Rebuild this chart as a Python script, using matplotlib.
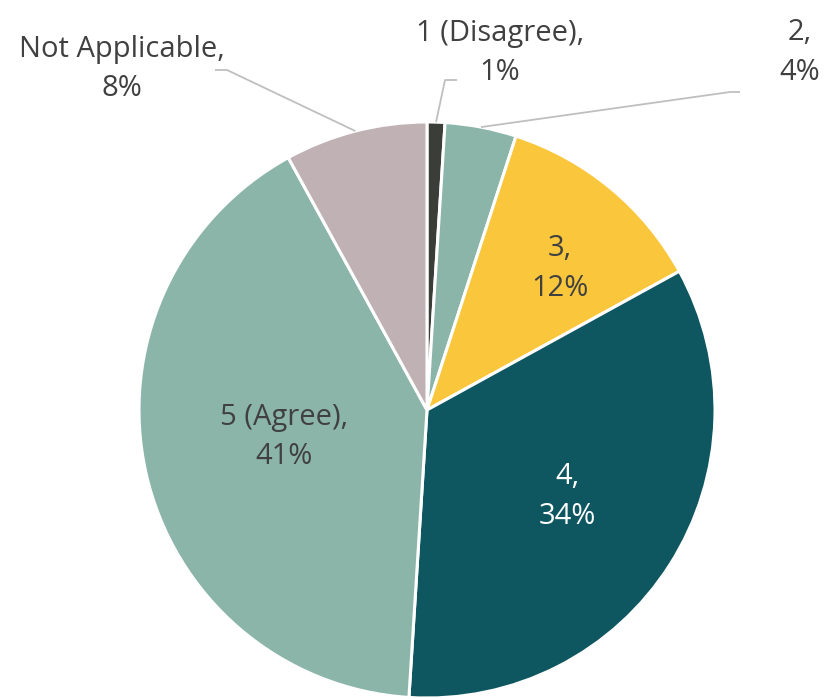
import numpy as np
import matplotlib
matplotlib.use("Agg")
import matplotlib.pyplot as plt

plt.rcParams["font.family"] = ["Open Sans", "DejaVu Sans"]

categories = ["1 (Disagree)", "2", "3", "4", "5 (Agree)", "Not Applicable"]
shares = [1, 4, 12, 34, 41, 8]
colors = ["#3b3d38", "#8cb5aa", "#f9c63c", "#0e5660", "#8cb5aa", "#c0b1b4"]

TXT = "#404040"
W, H = 830, 698

fig = plt.figure(figsize=(W / 100, H / 100), dpi=100)
ax = fig.add_axes([0, 0, 1, 1])

cx, cy, R = 427, H - 410, 288
wedges, _ = ax.pie(shares, colors=colors, startangle=90, counterclock=False,
                   center=(cx, cy), radius=R, frame=True,
                   wedgeprops=dict(edgecolor="white", linewidth=2.2))
ax.set_xlim(0, W)
ax.set_ylim(0, H)
ax.set_aspect("equal")
ax.axis("off")


def edge_point(w, frac=1.0):
    a = np.deg2rad((w.theta1 + w.theta2) / 2)
    return cx + R * frac * np.cos(a), cy + R * frac * np.sin(a)


# label layout: (text x, text y from top, text colour, leader elbow or None)
layout = {
    "1 (Disagree)": (500, 53, TXT, [(445, 80), (457, 80)]),
    "2": (800, 53, TXT, [(730, 92), (740, 92)]),
    "3": (560, 268, TXT, None),
    "4": (567, 497, "white", None),
    "5 (Agree)": (284, 437, TXT, None),
    "Not Applicable": (122, 69, TXT, [(227, 70), (215, 70)]),
}

for w, cat, val in zip(wedges, categories, shares):
    tx, ty, col, leader = layout[cat]
    ax.text(tx, H - ty, f"{cat},\n{val}%", ha="center", va="center",
            fontsize=21, color=col, linespacing=1.5)
    if leader:
        px, py = edge_point(w)
        xs = [px] + [p[0] for p in leader]
        ys = [py] + [H - p[1] for p in leader]
        ax.plot(xs, ys, color="#bfbfbf", lw=1.3, solid_capstyle="butt")

fig.savefig("out.png", dpi=100)
